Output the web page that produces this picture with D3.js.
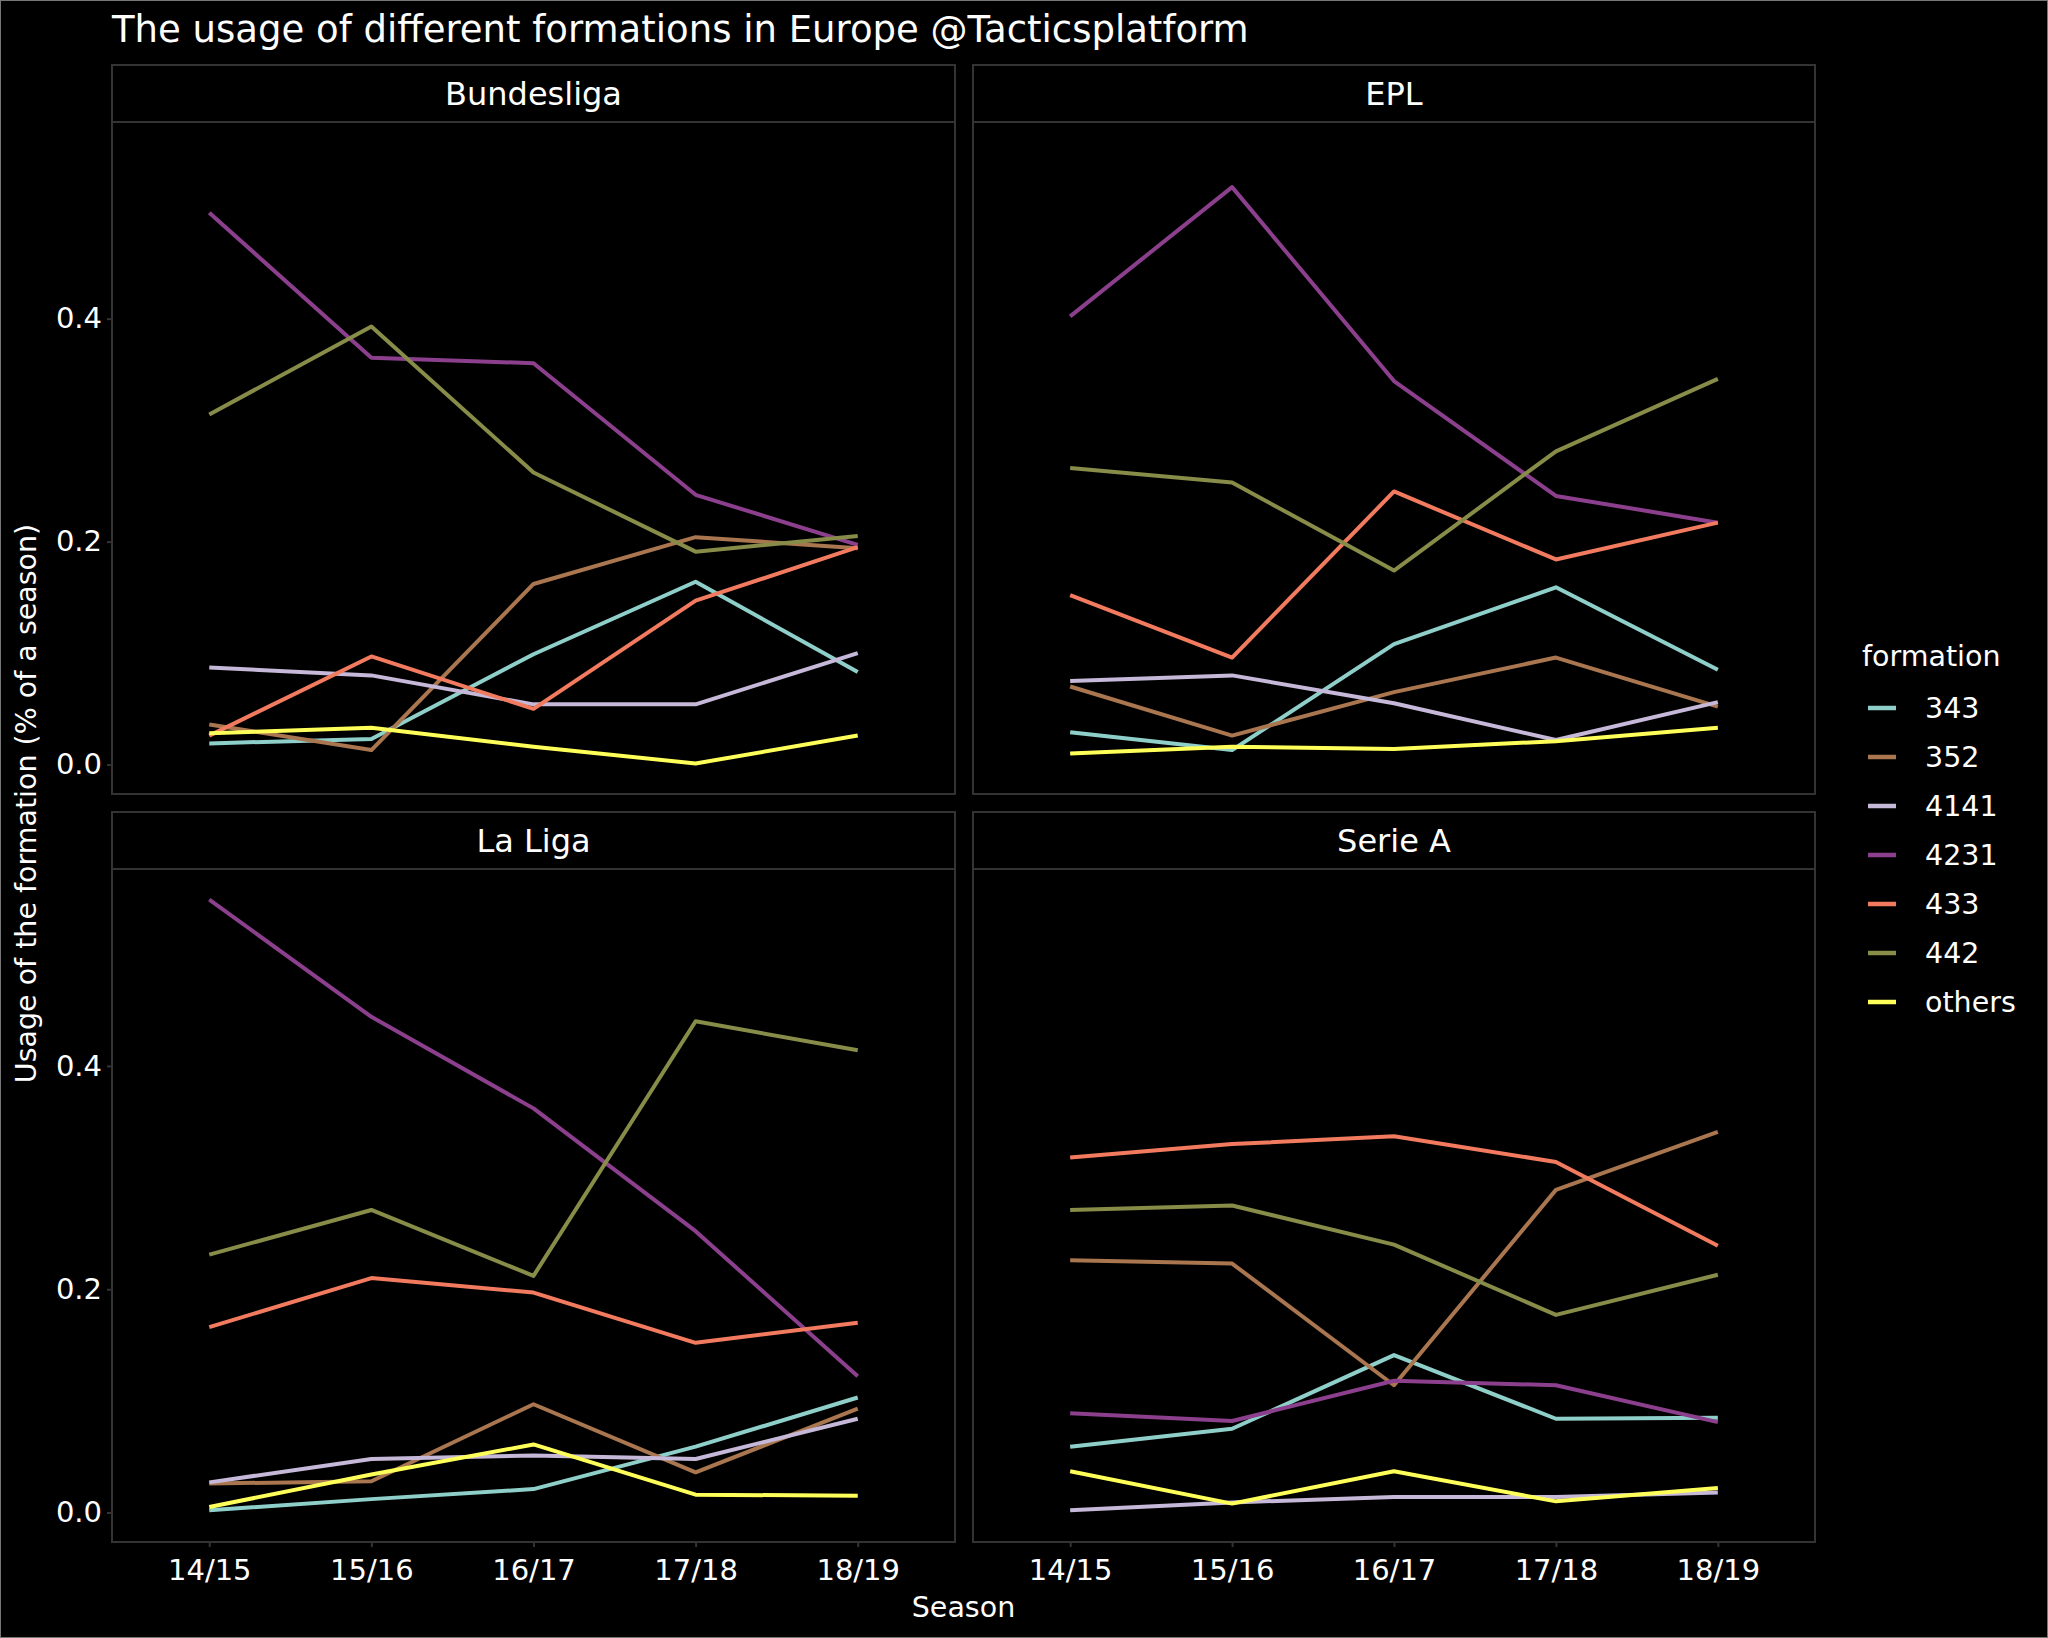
<!DOCTYPE html>
<html>
<head>
<meta charset="UTF-8">
<title>Formations in Europe</title>
<style>
  body { margin: 0; background: black; }
  svg { display: block; font-family: "DejaVu Sans", Verdana, sans-serif; }
  text { fill: white; }
</style>
</head>
<body>
<svg id="chart" width="2048" height="1638"></svg>
<script src="https://d3js.org/d3.v7.min.js"></script>
<script>
// seasons on the x axis
var seasons = ["14/15", "15/16", "16/17", "17/18", "18/19"];
var formations = ["343", "352", "4141", "4231", "433", "442", "others"];
var colors = ["#8fcfca", "#a9764f", "#c5b8d8", "#8c3f8d", "#f27b5f", "#878c48", "#ffff5a"];
var leagues = ["Bundesliga", "EPL", "La Liga", "Serie A"];
var yTicks = [0, 0.2, 0.4];

// one row per formation, same order as formations[]
var bundesliga = [
  [0.019, 0.023, 0.099, 0.164, 0.083],
  [0.036, 0.013, 0.162, 0.204, 0.194],
  [0.087, 0.080, 0.054, 0.054, 0.100],
  [0.495, 0.365, 0.360, 0.242, 0.197],
  [0.026, 0.097, 0.050, 0.147, 0.195],
  [0.314, 0.393, 0.262, 0.191, 0.205],
  [0.028, 0.033, 0.016, 0.001, 0.026]
];
var epl = [
  [0.029, 0.013, 0.108, 0.159, 0.085],
  [0.070, 0.026, 0.065, 0.096, 0.052],
  [0.075, 0.080, 0.055, 0.022, 0.056],
  [0.402, 0.518, 0.344, 0.241, 0.217],
  [0.152, 0.096, 0.245, 0.184, 0.217],
  [0.266, 0.253, 0.174, 0.281, 0.346],
  [0.010, 0.016, 0.014, 0.021, 0.033]
];
var laliga = [
  [0.002, 0.012, 0.021, 0.059, 0.103],
  [0.026, 0.028, 0.097, 0.036, 0.093],
  [0.027, 0.048, 0.051, 0.048, 0.084],
  [0.549, 0.444, 0.362, 0.252, 0.122],
  [0.166, 0.210, 0.197, 0.152, 0.170],
  [0.231, 0.271, 0.212, 0.440, 0.414],
  [0.005, 0.034, 0.061, 0.016, 0.015]
];
var seriea = [
  [0.059, 0.075, 0.141, 0.084, 0.085],
  [0.226, 0.223, 0.114, 0.289, 0.341],
  [0.002, 0.009, 0.014, 0.014, 0.018],
  [0.089, 0.082, 0.118, 0.114, 0.081],
  [0.318, 0.330, 0.337, 0.314, 0.239],
  [0.271, 0.275, 0.240, 0.177, 0.213],
  [0.037, 0.008, 0.037, 0.010, 0.022]
];
var leagueData = [bundesliga, epl, laliga, seriea];

var svg = d3.select("#chart");
var W = 2048, H = 1638;

svg.append("rect").attr("x", 0.5).attr("y", 0.5).attr("width", W - 1).attr("height", H - 1)
  .attr("fill", "black").attr("stroke", "#777").attr("stroke-width", 1);

// panel layout
var cols = [[112, 955], [973, 1815]];
var rows = [{ strip: 65, top: 122, bottom: 794 }, { strip: 812, top: 869, bottom: 1542 }];
var gridColor = "#333";

// shared y domain with ggplot style 5% expansion
var all = [];
leagueData.forEach(function(l) { l.forEach(function(r) { all = all.concat(r); }); });
var lo = d3.min(all), hi = d3.max(all), pad = (hi - lo) * 0.05;

svg.append("text")
  .attr("x", 112).attr("y", 42)
  .attr("font-size", 37)
  .text("The usage of different formations in Europe @Tacticsplatform");

var line = d3.line();

leagues.forEach(function(name, i) {
  var c = cols[i % 2], r = rows[Math.floor(i / 2)];
  var x = d3.scalePoint().domain(seasons).range([c[0], c[1]]).padding(0.6);
  var y = d3.scaleLinear().domain([lo - pad, hi + pad]).range([r.bottom, r.top]);
  var g = svg.append("g");

  // strip
  g.append("rect").attr("x", c[0]).attr("y", r.strip).attr("width", c[1] - c[0]).attr("height", r.top - r.strip)
    .attr("fill", "black").attr("stroke", gridColor).attr("stroke-width", 2);
  g.append("text").attr("x", (c[0] + c[1]) / 2).attr("y", (r.strip + r.top) / 2)
    .attr("text-anchor", "middle").attr("dominant-baseline", "central")
    .attr("font-size", 32).text(name);

  // panel
  g.append("rect").attr("x", c[0]).attr("y", r.top).attr("width", c[1] - c[0]).attr("height", r.bottom - r.top)
    .attr("fill", "black").attr("stroke", gridColor).attr("stroke-width", 2);

  // y axis on left column only
  if (i % 2 === 0) {
    var ya = d3.axisLeft(y).tickValues(yTicks).tickFormat(d3.format(".1f")).tickSize(5).tickPadding(5);
    var yg = g.append("g").attr("transform", "translate(" + c[0] + ",0)").call(ya);
    yg.select(".domain").remove();
    yg.selectAll("line").attr("stroke", gridColor).attr("stroke-width", 2);
    yg.selectAll("text").attr("fill", "white").attr("font-size", 29).attr("font-family", "DejaVu Sans");
  }
  // x axis on bottom row only
  if (i >= 2) {
    var xa = d3.axisBottom(x).tickSize(5).tickPadding(12);
    var xg = g.append("g").attr("transform", "translate(0," + r.bottom + ")").call(xa);
    xg.select(".domain").remove();
    xg.selectAll("line").attr("stroke", gridColor).attr("stroke-width", 2);
    xg.selectAll("text").attr("fill", "white").attr("font-size", 29).attr("font-family", "DejaVu Sans");
  }

  leagueData[i].forEach(function(vals, k) {
    g.append("path")
      .attr("d", line(vals.map(function(v, j) { return [x(seasons[j]), y(v)]; })))
      .attr("fill", "none").attr("stroke", colors[k]).attr("stroke-width", 4)
      .attr("stroke-linejoin", "round");
  });
});

// axis titles
svg.append("text").attr("x", (112 + 1815) / 2).attr("y", 1617)
  .attr("text-anchor", "middle").attr("font-size", 28.5).text("Season");
svg.append("text")
  .attr("transform", "translate(36," + (65 + 1542) / 2 + ") rotate(-90)")
  .attr("text-anchor", "middle").attr("font-size", 28.5)
  .text("Usage of the formation (% of a season)");

// legend
var lg = svg.append("g");
lg.append("text").attr("x", 1862).attr("y", 666).attr("font-size", 28.5).text("formation");
formations.forEach(function(f, k) {
  var ly = 708 + k * 49;
  lg.append("line").attr("x1", 1868).attr("x2", 1896).attr("y1", ly).attr("y2", ly)
    .attr("stroke", colors[k]).attr("stroke-width", 4.5);
  lg.append("text").attr("x", 1925).attr("y", ly).attr("dominant-baseline", "central")
    .attr("font-size", 28.5).text(f);
});
</script>
</body>
</html>
